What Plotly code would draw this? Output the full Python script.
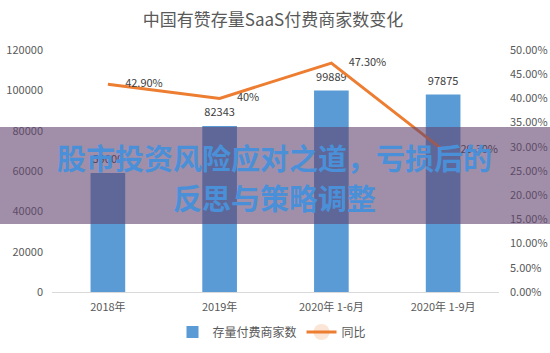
import plotly.graph_objects as go

categories = ["2018年", "2019年", "2020年 1-6月", "2020年 1-9月"]
merchants = [59000, 82343, 99889, 97875]
growth = [0.429, 0.40, 0.473, 0.293]
growth_labels = ["42.90%", "40%", "47.30%", "29.30%"]
merchant_labels = ["59000", "82343", "99889", "97875"]

title_text = "中国有赞存量SaaS付费商家数变化"
banner_line1 = "股市投资风险应对之道，亏损后的"
banner_line2 = "反思与策略调整"

FONT = "Noto Sans CJK SC"
GRAY = "#595959"

W, H = 550, 353
L, R, T, B = 52, 51, 50, 61
pw = W - L - R
ph = H - T - B

fig = go.Figure()

fig.add_trace(go.Bar(
    x=categories, y=merchants, name="存量付费商家数",
    marker=dict(color="#5B9BD5", line=dict(width=0)),
    width=0.31, yaxis="y",
))
fig.add_trace(go.Scatter(
    x=categories, y=merchants, mode="markers+text",
    text=merchant_labels, textposition="top center",
    marker=dict(size=10, opacity=0),
    textfont=dict(family=FONT, size=11, color="#404040"),
    showlegend=False, hoverinfo="skip", yaxis="y", cliponaxis=False,
))
fig.add_trace(go.Scatter(
    x=categories, y=growth, name="同比", mode="lines+markers+text",
    line=dict(color="#ED7D31", width=3),
    marker=dict(size=26, opacity=0),
    text=growth_labels, textposition="middle right",
    textfont=dict(family=FONT, size=11, color="#404040"),
    yaxis="y2", cliponaxis=False,
))

# banner overlay
fig.add_shape(
    type="rect", xref="paper", yref="paper", layer="above",
    x0=-L / pw, x1=(W - L) / pw,
    y0=(H - B - 224) / ph, y1=(H - B - 127) / ph,
    fillcolor="rgba(98,68,112,0.6)", line=dict(width=0),
)
for txt, yc in [(banner_line1, 157), (banner_line2, 197)]:
    fig.add_annotation(
        xref="paper", yref="paper", x=(274 - L) / pw, y=(H - B - yc) / ph,
        text="<b>" + txt + "</b>", showarrow=False,
        xanchor="center", yanchor="middle",
        font=dict(family=FONT, size=29, color="#4A90D9"),
    )

fig.update_layout(
    width=W, height=H,
    margin=dict(l=L, r=R, t=T, b=B, autoexpand=False),
    paper_bgcolor="white", plot_bgcolor="white",
    title=dict(text=title_text, x=273 / W, xanchor="center",
               y=1 - 20 / H, yanchor="middle",
               font=dict(family=FONT, size=17, color=GRAY)),
    font=dict(family=FONT, size=11, color=GRAY),
    xaxis=dict(showgrid=False, showline=True, linecolor="#D9D9D9", linewidth=1,
               ticks="", tickfont=dict(size=11, color=GRAY), ticklabelstandoff=5),
    yaxis=dict(range=[0, 120000], dtick=20000, showgrid=False, showline=False,
               zeroline=False, ticks="", tickfont=dict(size=11, color=GRAY),
               ticklabelstandoff=8, tickformat="d"),
    yaxis2=dict(range=[0, 0.5], dtick=0.05, overlaying="y", side="right",
                showgrid=False, showline=False, zeroline=False, ticks="",
                tickformat=".2%", tickfont=dict(size=11, color=GRAY),
                ticklabelstandoff=10),
    legend=dict(orientation="h", xref="paper", yref="paper",
                x=(272 - L) / pw, xanchor="center",
                y=(H - B - 332) / ph, yanchor="middle",
                font=dict(family=FONT, size=12, color=GRAY),
                traceorder="normal"),
    showlegend=True,
    bargap=0.5,
)

fig.write_html("out.html")
